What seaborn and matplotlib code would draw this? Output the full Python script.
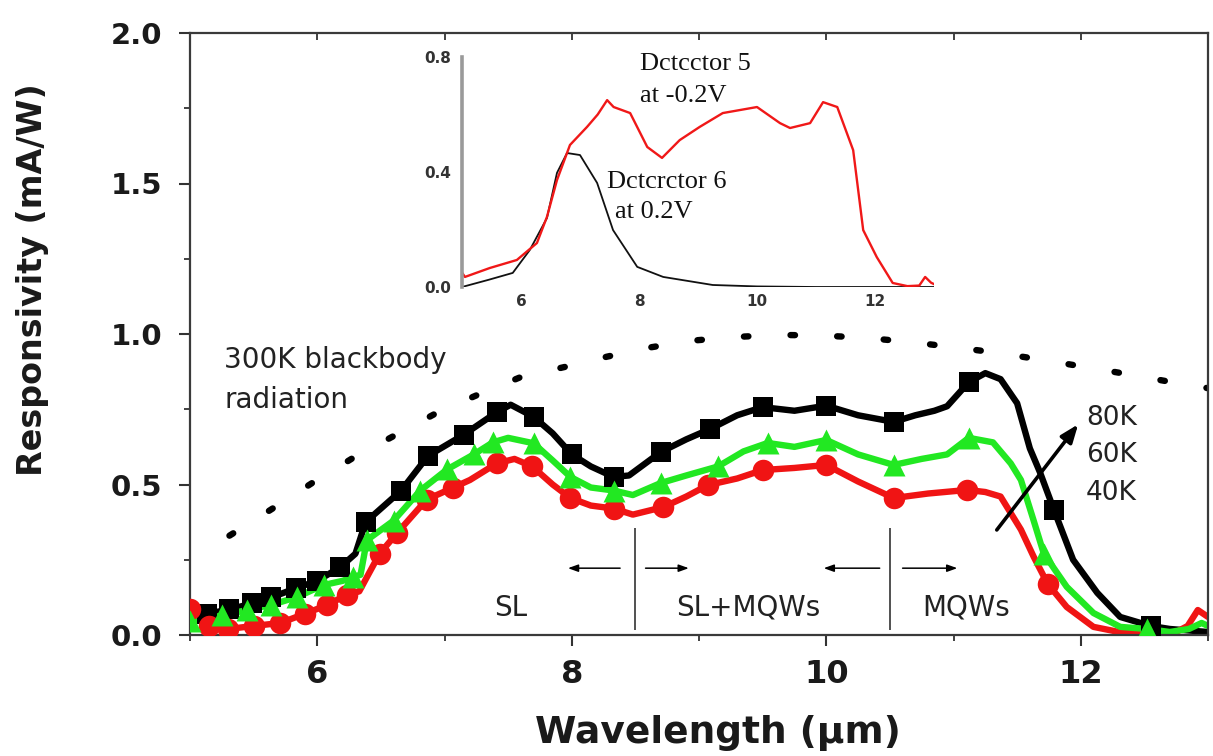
import numpy as np
import matplotlib
matplotlib.use("Agg")
import matplotlib.pyplot as plt
from matplotlib.ticker import MultipleLocator, FixedLocator
import seaborn as sns

# ---------------- main panel: responsivity vs wavelength ----------------
wl_80k = [5.00, 5.13, 5.31, 5.49, 5.64, 5.83, 6.00, 6.18, 6.30, 6.38, 6.66, 6.87, 7.15, 7.41,
          7.52, 7.70, 7.85, 8.00, 8.15, 8.33, 8.45, 8.70, 8.90, 9.09, 9.30, 9.50, 9.75, 10.00,
          10.25, 10.53, 10.70, 10.85, 10.95, 11.12, 11.25, 11.37, 11.50, 11.60, 11.68, 11.79,
          11.94, 12.13, 12.31, 12.55, 12.70, 12.85, 13.00]
r_80k = [0.055, 0.070, 0.085, 0.105, 0.125, 0.155, 0.180, 0.225, 0.270, 0.375, 0.480, 0.595,
         0.665, 0.740, 0.765, 0.725, 0.670, 0.600, 0.560, 0.525, 0.530, 0.608, 0.650, 0.685,
         0.730, 0.757, 0.745, 0.762, 0.730, 0.708, 0.730, 0.745, 0.760, 0.840, 0.870, 0.850,
         0.770, 0.620, 0.540, 0.415, 0.250, 0.140, 0.060, 0.030, 0.020, 0.015, 0.010]
mk_80k = [1, 2, 3, 4, 5, 6, 7, 9, 10, 11, 12, 13, 15, 17, 19, 21, 23, 25, 27, 29, 33, 39, 43]

wl_60k = [5.00, 5.10, 5.25, 5.45, 5.64, 5.84, 6.05, 6.20, 6.28, 6.34, 6.39, 6.60, 6.81, 7.02,
          7.23, 7.38, 7.50, 7.70, 7.85, 7.99, 8.15, 8.33, 8.48, 8.70, 8.90, 9.15, 9.35, 9.54,
          9.75, 10.00, 10.25, 10.53, 10.75, 10.95, 11.12, 11.31, 11.45, 11.53, 11.63, 11.71,
          11.89, 12.10, 12.31, 12.52, 12.70, 12.85, 12.95, 13.00]
r_60k = [0.045, 0.050, 0.065, 0.083, 0.100, 0.126, 0.166, 0.180, 0.193, 0.200, 0.315, 0.380,
         0.480, 0.550, 0.600, 0.640, 0.655, 0.637, 0.580, 0.525, 0.490, 0.480, 0.465, 0.505,
         0.530, 0.560, 0.610, 0.638, 0.625, 0.648, 0.600, 0.565, 0.585, 0.600, 0.655, 0.640,
         0.570, 0.515, 0.380, 0.270, 0.160, 0.073, 0.027, 0.020, 0.010, 0.020, 0.040, 0.030]
mk_60k = [0, 2, 3, 4, 5, 6, 8, 10, 11, 12, 13, 14, 15, 17, 19, 21, 23, 25, 27, 29, 31, 34, 39, 43]

wl_40k = [5.00, 5.05, 5.15, 5.30, 5.50, 5.71, 5.90, 6.08, 6.23, 6.33, 6.40, 6.49, 6.63, 6.86,
          7.07, 7.20, 7.41, 7.55, 7.69, 7.85, 7.99, 8.15, 8.33, 8.48, 8.72, 8.90, 9.07, 9.30,
          9.50, 9.75, 10.00, 10.25, 10.53, 10.80, 11.11, 11.25, 11.37, 11.53, 11.63, 11.74,
          11.89, 12.10, 12.30, 12.60, 12.75, 12.84, 12.92, 13.00]
r_40k = [0.085, 0.060, 0.030, 0.020, 0.030, 0.040, 0.070, 0.100, 0.133, 0.145, 0.200, 0.270,
         0.340, 0.450, 0.490, 0.515, 0.570, 0.585, 0.560, 0.500, 0.455, 0.430, 0.420, 0.400,
         0.425, 0.460, 0.498, 0.520, 0.548, 0.555, 0.565, 0.510, 0.455, 0.470, 0.482, 0.475,
         0.460, 0.350, 0.260, 0.170, 0.093, 0.027, 0.010, 0.005, 0.010, 0.030, 0.083, 0.060]
mk_40k = [0, 2, 3, 4, 5, 6, 7, 8, 11, 12, 13, 14, 16, 18, 20, 22, 24, 26, 28, 30, 32, 34, 39]

# 300 K blackbody radiation (dotted)
wl_bb = [5.31, 5.63, 5.96, 6.28, 6.64, 6.97, 7.30, 7.60, 7.94, 8.28, 8.61, 8.95, 9.28, 9.62,
         9.96, 10.29, 10.62, 10.97, 11.30, 11.64, 11.97, 12.32, 12.65, 13.00]
r_bb = [0.330, 0.415, 0.505, 0.588, 0.670, 0.745, 0.805, 0.857, 0.890, 0.925, 0.955, 0.978,
        0.990, 0.997, 0.995, 0.988, 0.975, 0.958, 0.940, 0.918, 0.895, 0.870, 0.845, 0.820]

# ---------------- inset: detector spectra ----------------
wl_det5 = [5.00, 5.05, 5.47, 5.93, 6.27, 6.44, 6.61, 6.83, 7.12, 7.30, 7.46, 7.57, 7.85, 8.14,
           8.39, 8.69, 9.03, 9.42, 10.00, 10.39, 10.56, 10.90, 11.12, 11.36, 11.63, 11.80,
           12.03, 12.30, 12.55, 12.75, 12.85, 12.95, 13.00]
r_det5 = [0.050, 0.035, 0.066, 0.094, 0.153, 0.244, 0.372, 0.494, 0.557, 0.600, 0.650, 0.626,
          0.605, 0.487, 0.449, 0.511, 0.557, 0.605, 0.626, 0.570, 0.553, 0.570, 0.643, 0.626,
          0.476, 0.198, 0.104, 0.014, 0.003, 0.005, 0.035, 0.015, 0.010]
wl_det6 = [5.00, 5.45, 5.86, 6.15, 6.44, 6.61, 6.78, 7.00, 7.29, 7.56, 7.97, 8.41, 9.25, 10.0,
           11.0, 12.0, 13.0]
r_det6 = [0.000, 0.025, 0.049, 0.129, 0.240, 0.397, 0.466, 0.459, 0.362, 0.198, 0.070, 0.035,
          0.007, 0.002, 0.000, 0.000, 0.000]

x_ticks = [6, 8, 10, 12]
y_ticks = [0.0, 0.5, 1.0, 1.5, 2.0]
inset_y_ticks = [0.0, 0.4, 0.8]

BLACK, GREEN, RED = "#000000", "#22e822", "#f01414"

sns.set_theme(style="ticks")
plt.rcParams["font.family"] = ["DejaVu Sans"]

fig = plt.figure(figsize=(12.13, 7.56), dpi=100)
W, H = 1213, 756
ax = fig.add_axes([190 / W, 1 - 635 / H, (1208 - 190) / W, (635 - 33) / H])

# blackbody envelope
sns.lineplot(x=wl_bb, y=r_bb, ax=ax, color="black", lw=4.6, estimator=None, sort=False)
bb_line = ax.lines[-1]
bb_line.set_linestyle((0, (0.7, 6.6)))
bb_line.set_dash_capstyle("round")

series = [
    (wl_80k, r_80k, mk_80k, BLACK, "s", 210),
    (wl_40k, r_40k, mk_40k, RED, "o", 240),
    (wl_60k, r_60k, mk_60k, GREEN, "^", 250),
]
for wl, r, mk, col, marker, size in series:
    sns.lineplot(x=wl, y=r, ax=ax, color=col, lw=4.6, estimator=None, sort=False,
                 solid_joinstyle="round", solid_capstyle="round")
    sns.scatterplot(x=np.asarray(wl)[mk], y=np.asarray(r)[mk], ax=ax, color=col,
                    marker=marker, s=size, edgecolor=col, linewidth=0, zorder=3)

# spectral region dividers and arrows
ax.vlines([8.5, 10.5], 0.015, 0.355, color="#333333", lw=1.2)
arrow_kw = dict(arrowstyle="-|>,head_length=0.5,head_width=0.18", color="black", lw=1.1,
                shrinkA=0, shrinkB=0)
for x0, x1 in [(8.38, 7.97), (8.58, 8.92), (10.42, 9.98), (10.60, 11.03)]:
    ax.annotate("", xy=(x1, 0.222), xytext=(x0, 0.222), arrowprops=arrow_kw)

region_font = dict(fontsize=20, color="#222222", ha="center", va="center")
ax.text(7.52, 0.09, "SL", **region_font)
ax.text(9.39, 0.09, "SL+MQWs", **region_font)
ax.text(11.10, 0.09, "MQWs", **region_font)

ax.text(5.27, 0.912, "300K blackbody", fontsize=20, color="#222222", ha="left", va="center")
ax.text(5.27, 0.780, "radiation", fontsize=20, color="#222222", ha="left", va="center")

# temperature trend arrow
ax.annotate("", xy=(11.98, 0.70), xytext=(11.34, 0.349),
            arrowprops=dict(arrowstyle="-|>,head_length=0.9,head_width=0.35", color="black",
                            lw=2.6, shrinkA=0, shrinkB=0))
for lab, yv in [("80K", 0.722), ("60K", 0.598), ("40K", 0.472)]:
    ax.text(12.04, yv, lab, fontsize=19, color="#222222", ha="left", va="center")

ax.set_xlim(5, 13)
ax.set_ylim(0, 2.0)
ax.xaxis.set_major_locator(FixedLocator(x_ticks))
ax.xaxis.set_minor_locator(MultipleLocator(1))
ax.yaxis.set_major_locator(FixedLocator(y_ticks))
ax.yaxis.set_minor_locator(MultipleLocator(0.25))
ax.set_yticklabels([f"{v:.1f}" for v in y_ticks])
ax.tick_params(axis="both", which="major", direction="out", length=8, width=1.5, color="#333333")
ax.tick_params(axis="both", which="minor", direction="out", length=4.5, width=1.3, color="#333333")
ax.tick_params(axis="y", which="major", labelsize=21, pad=12)
ax.tick_params(axis="x", which="major", labelsize=23, pad=9)
for lab in ax.get_xticklabels() + ax.get_yticklabels():
    lab.set_fontweight("bold")
    lab.set_color("#1a1a1a")
for sp in ax.spines.values():
    sp.set_visible(True)
    sp.set_color("#3a3a3a")
    sp.set_linewidth(1.6)

top = ax.secondary_xaxis("top")
top.xaxis.set_major_locator(FixedLocator(x_ticks))
top.xaxis.set_minor_locator(MultipleLocator(1))
top.tick_params(which="both", direction="in", labeltop=False, length=5, width=1.3, color="#333333")
top.spines["top"].set_visible(False)

ax.set_xlabel("Wavelength (\u03bcm)", fontsize=27, fontweight="bold", color="#1a1a1a")
ax.set_ylabel("Responsivity (mA/W)", fontsize=24, fontweight="bold", color="#1a1a1a")
ax.xaxis.set_label_coords(0.519, -0.163)
ax.xaxis.label.set_va("center")
ax.yaxis.set_label_coords(-0.155, 0.59)
ax.yaxis.label.set_va("center")

# ---------------- inset ----------------
ins = fig.add_axes([462 / W, 1 - 287 / H, 472 / W, 230 / H], zorder=5)
ins.set_facecolor("white")
sns.lineplot(x=wl_det6, y=r_det6, ax=ins, color="#111111", lw=1.3, estimator=None, sort=False)
sns.lineplot(x=wl_det5, y=r_det5, ax=ins, color="#f01818", lw=1.7, estimator=None, sort=False)
ins.set_xlim(5, 13)
ins.set_ylim(0, 0.8)
ins.xaxis.set_major_locator(FixedLocator(x_ticks))
ins.yaxis.set_major_locator(FixedLocator(inset_y_ticks))
ins.set_yticklabels([f"{v:.1f}" for v in inset_y_ticks])
ins.tick_params(axis="both", length=0, labelsize=11, labelcolor="#333333")
ins.tick_params(axis="x", pad=5)
ins.tick_params(axis="y", pad=8)
for lab in ins.get_xticklabels() + ins.get_yticklabels():
    lab.set_fontweight("bold")
for name, sp in ins.spines.items():
    sp.set_visible(name == "left")
ins.spines["left"].set_color("#9a9a9a")
ins.spines["left"].set_linewidth(2.6)
ins.set_xlabel("")
ins.set_ylabel("")

serif = dict(fontsize=19, family="Liberation Serif", color="#111111", ha="left", va="center",
             clip_on=False)
ins.text(8.02, 0.775, "Dctcctor 5", **serif)
ins.text(8.02, 0.665, "at -0.2V", **serif)
ins.text(7.45, 0.366, "Dctcrctor 6", **serif)
ins.text(7.60, 0.262, "at 0.2V", **serif)

fig.savefig("out.png", dpi=100, facecolor="white")
